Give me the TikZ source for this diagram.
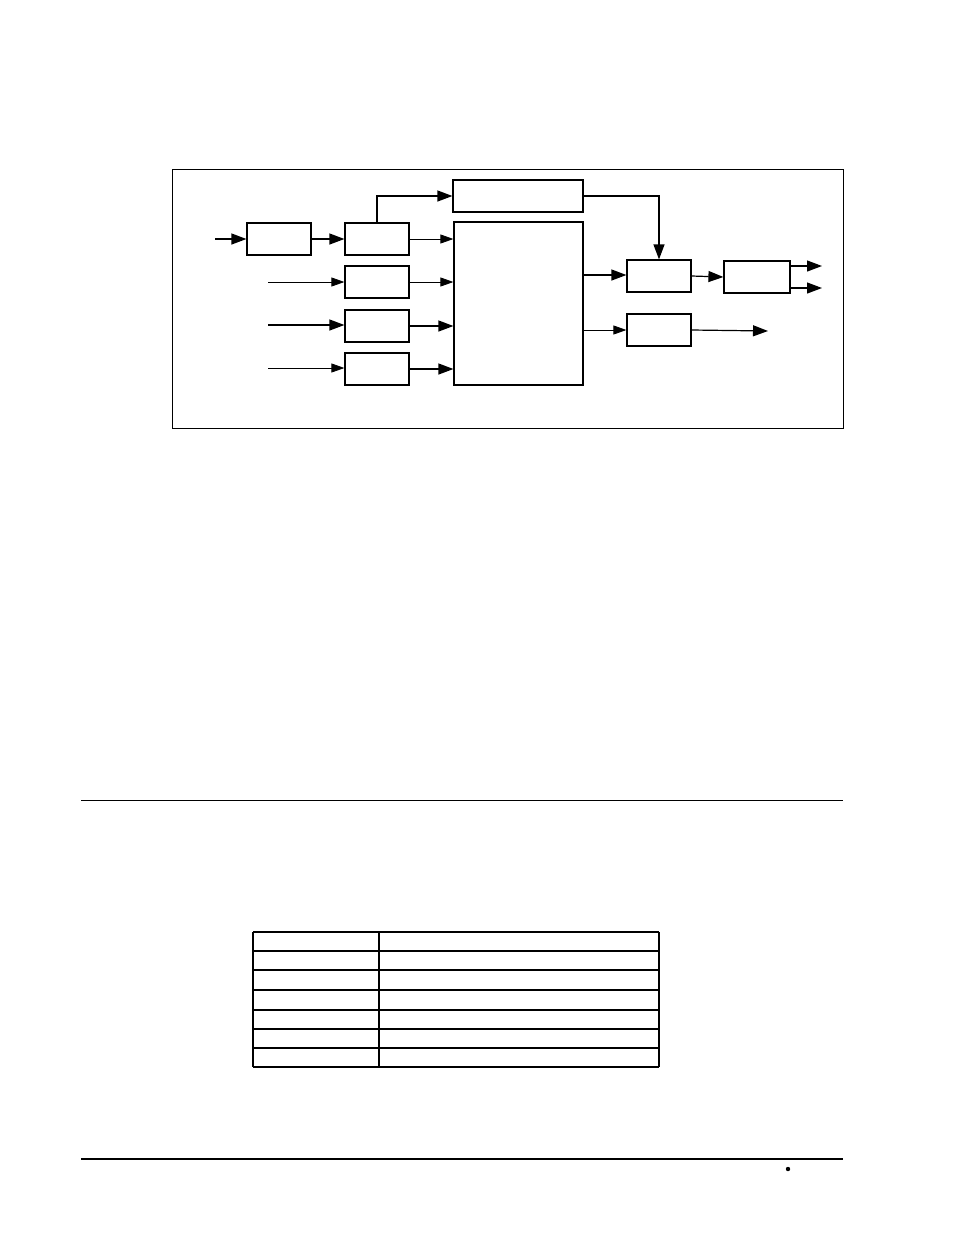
\documentclass[tikz,border=0pt]{standalone}
\usetikzlibrary{arrows.meta}
\begin{document}
\begin{tikzpicture}[x=1pt,y=-1pt,
  box/.style={draw,line width=1.2pt,inner sep=0pt,minimum width=64pt,minimum height=32pt},
  big/.style={-{Triangle[length=15pt,width=11pt]},line width=1.2pt},
  sm/.style={-{Triangle[length=13pt,width=9pt]},line width=0.8pt}]
\useasboundingbox (0,0) rectangle (954,1235);
\draw[line width=0.7pt] (172,169) rectangle (843,428);
\node[box] (A) at (279,239) {};
\node[box] (B1) at (377,239) {};
\node[box] (B2) at (377,282) {};
\node[box] (B3) at (377,326) {};
\node[box] (B4) at (377,369) {};
\node[box,minimum width=130pt] (T) at (518,196) {};
\node[box,minimum width=129pt,minimum height=163pt] (M) at (518.5,303.5) {};
\node[box] (C) at (659,276) {};
\node[box] (D) at (659,330) {};
\node[box,minimum width=66pt] (E) at (757,277) {};
\coordinate (i1) at (215,239);
\coordinate (i2) at (268,282);
\coordinate (i3) at (268,325);
\coordinate (i4) at (268,368);
\coordinate (o1) at (822,266);
\coordinate (o2) at (822,288);
\coordinate (o3) at (768,331);
\draw[big] (i1) -- (A.west);
\draw[big] (A.east) -- (B1.west);
\draw[sm] (i2) -- (i2 -| B2.west);
\draw[big] (i3) -- (i3 -| B3.west);
\draw[sm] (i4) -- (i4 -| B4.west);
\draw[big] (B1.north) |- (T.west);
\draw[sm] (B1.east) -- (B1.east -| M.west);
\draw[sm] (B2.east) -- (B2.east -| M.west);
\draw[big] (B3.east) -- (B3.east -| M.west);
\draw[big] (B4.east) -- (B4.east -| M.west);
\draw[big] (T.east) -| (C.north);
\draw[big] (M.east |- 0,275) -- (C.west |- 0,275);
\draw[sm] (M.east |- 0,330) -- (D.west);
\draw[big] (D.east) -- (o3);
\draw[big] (C.east) -- (E.west);
\draw[big] (E.east |- o1) -- (o1);
\draw[big] (E.east |- o2) -- (o2);
\draw[line width=0.6pt] (81,800) -- (843,800);
\draw[line width=1.4pt] (81,1159) -- (843,1159);
\fill (788,1169) circle (2.2pt);
\foreach \y in {932,951,970,990,1010,1029,1048,1067}
  \draw[line width=1.1pt] (253,\y) -- (659,\y);
\foreach \x in {253,379,659}
  \draw[line width=1.1pt] (\x,932) -- (\x,1067);
\end{tikzpicture}
\end{document}
